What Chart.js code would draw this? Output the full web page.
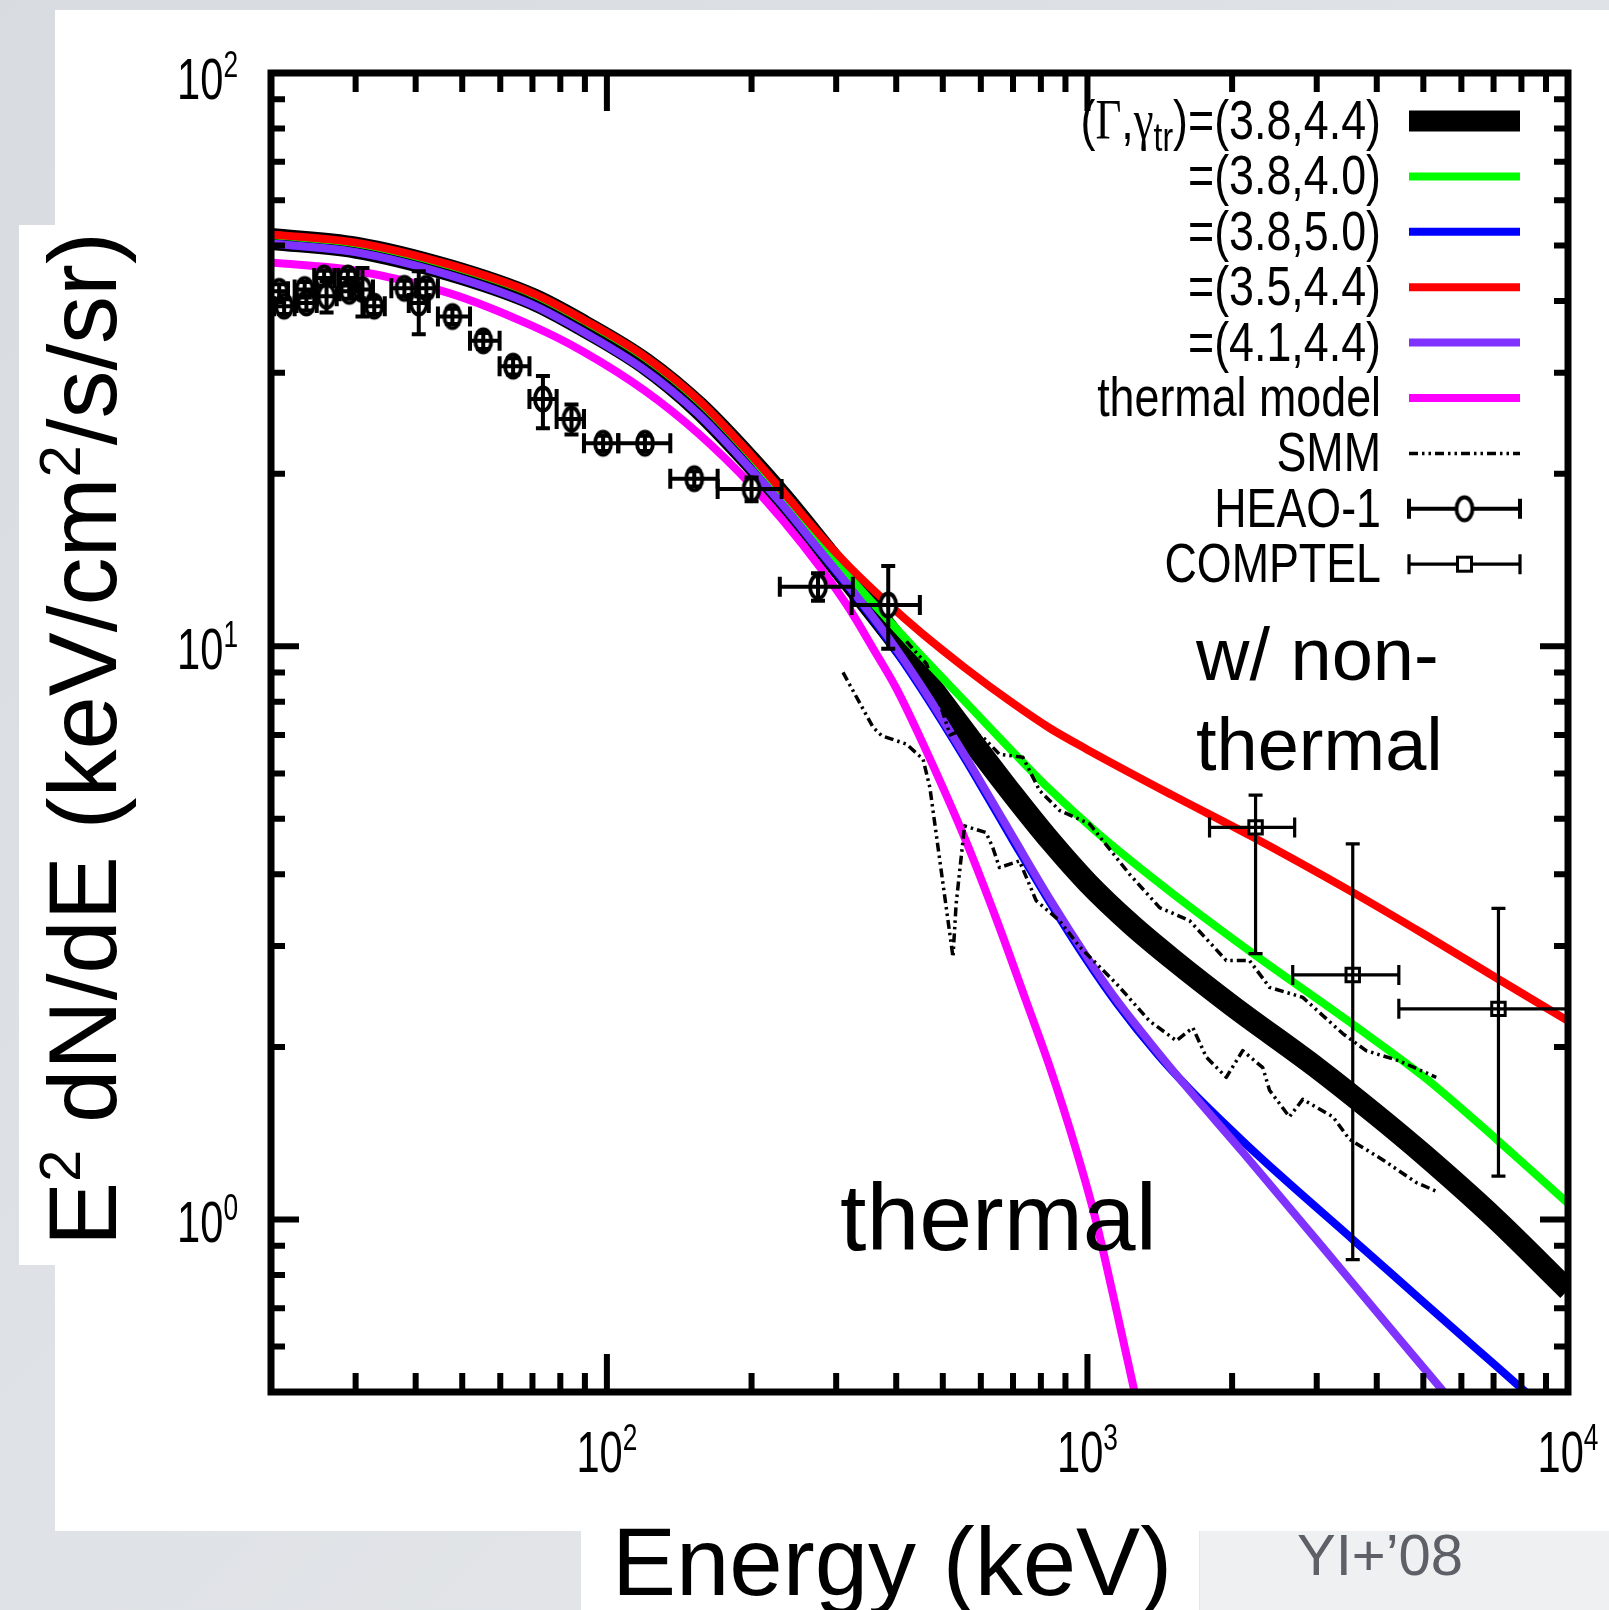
<!DOCTYPE html>
<html lang="en">
<head>
<meta charset="utf-8">
<title>E² dN/dE spectrum</title>
<script src="https://cdn.jsdelivr.net/npm/chart.js@4.4.1/dist/chart.umd.min.js"></script>
<style>
  html, body { margin: 0; padding: 0; background: #dfe2e6; overflow: hidden; }
  canvas { display: block; }
</style>
</head>
<body>
<canvas id="spectrum" width="1609" height="1610"></canvas>
<script>
// ---------- model spectra: energy (keV) and E^2 dN/dE (keV/cm^2/s/sr) ----------
// (Γ,γtr) = (3.8,4.4)
const energyA = [20, 30, 47, 70, 89, 120, 155, 200, 232, 280, 320, 382, 450, 557, 700, 840, 1000, 1234, 1500, 2000, 3000, 4000, 5000, 7000, 10000];
const fluxA   = [51.34, 49.6, 45.3, 40.35, 36.3, 31.15, 26.1, 20.9, 18.14, 14.95, 13.0, 10.77, 8.99, 7.08, 5.51, 4.56, 3.87, 3.27, 2.85, 2.36, 1.84, 1.52, 1.30, 1.01, 0.753];
// (3.8,4.0)
const energyB = [20, 30, 47, 70, 89, 120, 155, 200, 232, 280, 320, 382, 450, 560, 700, 834, 1060, 1500, 2174, 3565, 5000, 7085, 10000];
const fluxB   = [52.15, 50.45, 46.15, 41.2, 37.1, 31.9, 26.8, 21.4, 18.4, 15.13, 13.2, 11.2, 9.65, 7.96, 6.54, 5.63, 4.69, 3.71, 2.94, 2.19, 1.776, 1.382, 1.067];
// (3.8,5.0)
const energyC = [20, 30, 47, 70, 89, 120, 155, 200, 232, 280, 320, 382, 450, 560, 616, 700, 834, 1000, 1148, 1400, 1640, 2105, 2500, 3565, 5000, 6360, 8075, 10000];
const fluxC   = [50.4, 48.7, 44.4, 39.4, 35.4, 30.3, 25.4, 20.3, 17.62, 14.5, 12.62, 10.35, 8.45, 6.3, 5.5, 4.58, 3.58, 2.82, 2.39, 1.94, 1.68, 1.37, 1.20, 0.923, 0.718, 0.601, 0.504, 0.43];
// (3.5,4.4)
const energyD = [20, 30, 47, 70, 89, 120, 155, 200, 232, 280, 320, 382, 450, 557, 700, 834, 1000, 1500, 2174, 3565, 5000, 7085, 10000];
const fluxD   = [52.3, 50.6, 46.3, 41.3, 37.2, 32.0, 26.9, 21.5, 18.64, 15.5, 13.75, 11.93, 10.57, 9.16, 7.95, 7.2, 6.6, 5.5, 4.68, 3.72, 3.15, 2.64, 2.22];
// (4.1,4.4)
const energyE = [20, 30, 47, 70, 89, 120, 155, 200, 232, 280, 320, 382, 450, 560, 616, 700, 834, 1000, 1148, 1400, 1640, 2105, 3565, 4746, 5530, 7000, 10000];
const fluxE   = [50.4, 48.7, 44.4, 39.4, 35.4, 30.3, 25.4, 20.3, 17.65, 14.54, 12.69, 10.45, 8.55, 6.38, 5.58, 4.65, 3.63, 2.86, 2.42, 1.96, 1.67, 1.31, 0.774, 0.581, 0.499, 0.394, 0.276];
// thermal model
const energyT = [20, 30, 47, 70, 89, 120, 155, 200, 232, 280, 320, 357, 400, 457, 557, 650, 746, 834, 948, 1040, 1130, 1260];
const fluxT   = [46.7, 45.2, 41.3, 36.2, 32.7, 27.9, 23.5, 19.1, 16.6, 13.6, 11.6, 9.95, 8.45, 6.7, 4.6, 3.3, 2.4, 1.85, 1.32, 1.0, 0.74, 0.49];

// ---------- SMM measurement (lower and upper traces) ----------
const smmLowE = [310, 358, 373, 420, 455, 470, 525, 533, 555, 615, 635, 656, 722, 782, 875, 963, 1148, 1346, 1531, 1657, 1767, 1945, 2104, 2317, 2393, 2632, 2806, 3243, 3509, 4121, 4832, 5318];
const smmLowF = [9.0, 7.22, 6.98, 6.75, 6.35, 5.67, 2.87, 3.55, 4.86, 4.73, 4.46, 4.11, 4.22, 3.60, 3.32, 2.99, 2.58, 2.22, 2.05, 2.16, 1.92, 1.77, 1.97, 1.84, 1.68, 1.51, 1.62, 1.51, 1.38, 1.27, 1.16, 1.12];
const smmUpE  = [420, 433, 463, 518, 560, 607, 656, 734, 795, 875, 1010, 1224, 1413, 1632, 1945, 2174, 2393, 2806, 3398, 3801, 4459, 5318];
const smmUpF  = [10.2, 9.9, 9.3, 7.0, 7.2, 6.93, 6.48, 6.40, 5.60, 5.17, 4.90, 4.00, 3.50, 3.32, 2.83, 2.83, 2.54, 2.44, 2.11, 1.97, 1.89, 1.77];

// ---------- HEAO-1 points with energy bins and flux errors ----------
const heaoE   = [20.8, 21.3, 23.5, 23.7, 25.8, 26.1, 28.9, 29.1, 31.0, 32.8, 37.9, 40.6, 42.1, 47.7, 55.3, 63.8, 73.6, 84.4, 98.2, 120, 152, 200, 275, 385];
const heaoF   = [41.6, 39.2, 41.9, 39.7, 43.9, 40.8, 43.9, 41.6, 41.9, 39.2, 42.1, 39.7, 42.1, 37.6, 34.1, 30.8, 27.0, 24.9, 22.6, 22.6, 19.6, 18.8, 12.7, 11.8];
const heaoElo = [20.0, 20.3, 22.4, 22.6, 24.6, 24.9, 27.6, 27.8, 29.5, 31.2, 35.6, 38.7, 40.1, 44.5, 51.9, 59.8, 69.0, 78.6, 89.6, 105.6, 135.5, 170, 229, 323];
const heaoEhi = [21.7, 22.4, 24.7, 24.9, 27.1, 27.4, 30.3, 30.5, 32.6, 34.5, 40.2, 42.6, 44.5, 51.9, 59.8, 69.0, 78.6, 89.6, 105.6, 135.5, 170, 231, 325, 448];
const heaoFlo = [40.4, 38.0, 40.6, 38.5, 42.6, 38.2, 42.6, 40.4, 37.6, 38.0, 40.8, 35.0, 40.8, 36.5, 33.0, 29.8, 24.0, 23.4, 21.9, 21.9, 19.0, 17.9, 12.0, 9.9];
const heaoFhi = [42.8, 40.4, 43.2, 40.9, 45.2, 43.3, 45.2, 42.8, 45.7, 40.4, 43.4, 45.1, 43.4, 38.8, 35.2, 31.8, 29.6, 26.4, 23.3, 23.3, 20.2, 19.7, 13.4, 13.8];

// ---------- COMPTEL points ----------
const comptelE   = [2238, 3565, 7166];
const comptelF   = [4.83, 2.67, 2.33];
const comptelElo = [1795, 2674, 4446];
const comptelEhi = [2699, 4446, 11000];
const comptelFlo = [2.91, 0.851, 1.19];
const comptelFhi = [5.5, 4.52, 3.49];

// ---------- axes ----------
const xTickValues = [30, 40, 50, 60, 70, 80, 90, 100, 200, 300, 400, 500, 600, 700, 800, 900, 1000, 2000, 3000, 4000, 5000, 6000, 7000, 8000, 9000];
const yTickValues = [0.6, 0.7, 0.8, 0.9, 1, 2, 3, 4, 5, 6, 7, 8, 9, 10, 20, 30, 40, 50, 60, 70, 80, 90];
const xLabelValues = [100, 1000, 10000];
const xLabelExps   = ['2', '3', '4'];
const yLabelValues = [1, 10, 100];
const yLabelExps   = ['0', '1', '2'];

const seriesLabels = ['=(3.8,4.4)', '=(3.8,4.0)', '=(3.8,5.0)', '=(3.5,4.4)', '=(4.1,4.4)', 'thermal model', 'SMM', 'HEAO-1', 'COMPTEL'];

const W = 1609, H = 1610;
const SANS = '"Liberation Sans", Arial, Helvetica, sans-serif';
const SERIF = '"Liberation Serif", "Times New Roman", serif';
const font = (px, fam = SANS) => `${px}px ${fam}`;

const pts = (xs, ys) => xs.map((v, i) => ({ x: v, y: ys[i] }));

// open ellipse marker used for HEAO-1 points
function ellipseMarker() {
  const c = document.createElement('canvas');
  c.width = 24; c.height = 30;
  const g = c.getContext('2d');
  g.beginPath();
  g.ellipse(12, 15, 8, 11.5, 0, 0, Math.PI * 2);
  g.fillStyle = '#fff'; g.fill();
  g.lineWidth = 3.8; g.strokeStyle = '#000'; g.stroke();
  return c;
}
const heaoMarker = ellipseMarker();

// later entries in the key are painted on top (lower `order` is drawn last)
function curve(label, xs, ys, color, width, order) {
  return {
    label, data: pts(xs, ys), showLine: true, borderColor: color, backgroundColor: color,
    borderWidth: width, pointRadius: 0, cubicInterpolationMode: 'monotone', clip: 0, order
  };
}
function smmTrace(label, xs, ys, order) {
  return {
    label, data: pts(xs, ys), showLine: true, borderColor: '#000', borderWidth: 3.5,
    borderDash: [9, 4, 2.5, 4, 2.5, 4], pointRadius: 0, tension: 0, clip: 0, order
  };
}

const datasets = [
  curve(seriesLabels[0], energyA, fluxA, '#000000', 22, 10),
  curve(seriesLabels[1], energyB, fluxB, '#00ff00', 8, 9),
  curve(seriesLabels[2], energyC, fluxC, '#0000ff', 8, 8),
  curve(seriesLabels[3], energyD, fluxD, '#ff0000', 8, 7),
  curve(seriesLabels[4], energyE, fluxE, '#8033ff', 8, 6),
  curve(seriesLabels[5], energyT, fluxT, '#ff00ff', 8, 5),
  smmTrace(seriesLabels[6], smmLowE, smmLowF, 4),
  smmTrace(seriesLabels[6], smmUpE, smmUpF, 3),
  {
    label: seriesLabels[7], data: pts(heaoE, heaoF), showLine: false, order: 2,
    pointStyle: heaoMarker, pointRadius: 12, clip: 0,
    errors: { xLo: heaoElo, xHi: heaoEhi, yLo: heaoFlo, yHi: heaoFhi, width: 4, capX: 10, capY: 7 }
  },
  {
    label: seriesLabels[8], data: pts(comptelE, comptelF), showLine: false, order: 1,
    pointStyle: 'rect', pointRadius: 9.5, borderColor: '#000', backgroundColor: '#fff', borderWidth: 3, clip: 0,
    errors: { xLo: comptelElo, xHi: comptelEhi, yLo: comptelFlo, yHi: comptelFhi, width: 3.2, capX: 10, capY: 7 }
  }
];

// draws a run of text pieces (font / vertical shift per piece), squeezed horizontally by sx
function richText(ctx, segs, x, y, align, sx) {
  ctx.save();
  ctx.translate(x, y);
  ctx.scale(sx, 1);
  ctx.textAlign = 'left';
  ctx.textBaseline = 'alphabetic';
  let w = 0;
  for (const s of segs) { ctx.font = s.font; w += ctx.measureText(s.t).width; }
  let cx = align === 'right' ? -w : (align === 'center' ? -w / 2 : 0);
  for (const s of segs) {
    ctx.font = s.font;
    ctx.fillText(s.t, cx, s.dy || 0);
    cx += ctx.measureText(s.t).width;
  }
  ctx.restore();
}

// slide panels behind the plot
const backdrop = {
  id: 'backdrop',
  beforeDraw(chart) {
    const c = chart.ctx;
    c.save();
    const g = c.createLinearGradient(0, 0, W, H);
    g.addColorStop(0, '#d8dce1');
    g.addColorStop(1, '#e6e8eb');
    c.fillStyle = g;
    c.fillRect(0, 0, W, H);
    c.fillStyle = '#ffffff';
    c.fillRect(55, 10, W - 55, 1521);
    c.fillRect(19, 225, 40, 1040);
    c.fillRect(581, 1531, 618, H - 1531);
    c.fillStyle = '#eef0f2';
    c.fillRect(1200, 1531, W - 1200, H - 1531);
    c.restore();
  }
};

// error bars, inward tick marks and the heavy frame
const frame = {
  id: 'frame',
  afterDatasetsDraw(chart) {
    const { ctx, chartArea: a, scales: { x, y } } = chart;
    ctx.save();
    ctx.beginPath();
    ctx.rect(a.left, a.top, a.right - a.left, a.bottom - a.top);
    ctx.clip();
    ctx.strokeStyle = '#000';
    chart.data.datasets.forEach(ds => {
      if (!ds.errors) return;
      const e = ds.errors;
      ctx.lineWidth = e.width;
      ds.data.forEach((p, i) => {
        const px = x.getPixelForValue(p.x), py = y.getPixelForValue(p.y);
        const x0 = x.getPixelForValue(e.xLo[i]), x1 = x.getPixelForValue(e.xHi[i]);
        const y0 = y.getPixelForValue(e.yLo[i]), y1 = y.getPixelForValue(e.yHi[i]);
        ctx.beginPath();
        ctx.moveTo(x0, py); ctx.lineTo(x1, py);
        ctx.moveTo(x0, py - e.capX); ctx.lineTo(x0, py + e.capX);
        ctx.moveTo(x1, py - e.capX); ctx.lineTo(x1, py + e.capX);
        ctx.moveTo(px, y0); ctx.lineTo(px, y1);
        ctx.moveTo(px - e.capY, y0); ctx.lineTo(px + e.capY, y0);
        ctx.moveTo(px - e.capY, y1); ctx.lineTo(px + e.capY, y1);
        ctx.stroke();
      });
    });
    ctx.restore();

    ctx.save();
    ctx.strokeStyle = '#000';
    ctx.lineWidth = 6;
    const isMajor = v => Math.abs(Math.log10(v) - Math.round(Math.log10(v))) < 1e-9;
    ctx.beginPath();
    x.ticks.forEach(t => {
      const v = t.value;
      if (v <= x.min || v >= x.max) return;
      const px = x.getPixelForValue(v);
      const L = isMajor(v) ? 38 : 19;
      ctx.moveTo(px, a.bottom); ctx.lineTo(px, a.bottom - L);
      ctx.moveTo(px, a.top); ctx.lineTo(px, a.top + L);
    });
    y.ticks.forEach(t => {
      const v = t.value;
      if (v <= y.min || v >= y.max) return;
      const py = y.getPixelForValue(v);
      const L = isMajor(v) ? 28 : 14;
      ctx.moveTo(a.left, py); ctx.lineTo(a.left + L, py);
      ctx.moveTo(a.right, py); ctx.lineTo(a.right - L, py);
    });
    ctx.stroke();
    ctx.lineWidth = 7;
    ctx.strokeRect(a.left, a.top, a.right - a.left, a.bottom - a.top);
    ctx.restore();
  }
};

// tick labels, axis titles, annotations and the key
const texts = {
  id: 'texts',
  afterDraw(chart) {
    const { ctx, scales: { x, y } } = chart;
    ctx.save();
    ctx.fillStyle = '#000';

    // tick labels as 10^n
    xLabelValues.forEach((v, i) => {
      const px = x.getPixelForValue(v);
      richText(ctx, [{ t: '10', font: font(57) }, { t: xLabelExps[i], font: font(36), dy: -22 }], px, 1472, 'center', 0.73);
    });
    yLabelValues.forEach((v, i) => {
      const py = y.getPixelForValue(v);
      richText(ctx, [{ t: '10', font: font(57) }, { t: yLabelExps[i], font: font(36), dy: -22 }], 238, py + (i === 2 ? 26 : 23), 'right', 0.73);
    });

    // axis titles
    richText(ctx, [{ t: 'Energy (keV)', font: font(96) }], 892, 1595, 'center', 1);
    ctx.save();
    ctx.translate(116, 739);
    ctx.rotate(-Math.PI / 2);
    richText(ctx, [
      { t: 'E', font: font(96) }, { t: '2', font: font(58), dy: -36 },
      { t: ' dN/dE (keV/cm', font: font(96) }, { t: '2', font: font(58), dy: -36 },
      { t: '/s/sr)', font: font(96) }
    ], 0, 0, 'center', 1);
    ctx.restore();

    // annotations inside the plot
    richText(ctx, [{ t: 'w/ non-', font: font(74) }], 1196, 680, 'left', 1);
    richText(ctx, [{ t: 'thermal', font: font(74) }], 1196, 770, 'left', 1);
    richText(ctx, [{ t: 'thermal', font: font(95) }], 840, 1250, 'left', 1);

    // reference tag
    ctx.fillStyle = '#5d6167';
    richText(ctx, [{ t: 'YI+\u201908', font: font(58) }], 1297, 1575, 'left', 1);
    ctx.fillStyle = '#000';

    // key
    const right = 1381, s0 = 1409, s1 = 1520, step = 55.4, top = 121;
    const ds = chart.data.datasets;
    const rows = [
      { segs: [{ t: '(', font: font(56) }, { t: '\u0393', font: font(56, SERIF) }, { t: ',', font: font(56) },
               { t: '\u03b3', font: font(56, SERIF) }, { t: 'tr', font: font(40), dy: 12 },
               { t: ')' + seriesLabels[0], font: font(56) }], ds: 0 },
      { segs: [{ t: seriesLabels[1], font: font(56) }], ds: 1 },
      { segs: [{ t: seriesLabels[2], font: font(56) }], ds: 2 },
      { segs: [{ t: seriesLabels[3], font: font(56) }], ds: 3 },
      { segs: [{ t: seriesLabels[4], font: font(56) }], ds: 4 },
      { segs: [{ t: seriesLabels[5], font: font(56) }], ds: 5 },
      { segs: [{ t: seriesLabels[6], font: font(56) }], ds: 6 },
      { segs: [{ t: seriesLabels[7], font: font(56) }], ds: 8 },
      { segs: [{ t: seriesLabels[8], font: font(56) }], ds: 9 }
    ];
    rows.forEach((r, i) => {
      const cy = top + i * step;
      richText(ctx, r.segs, right, cy + 18, 'right', 0.8);
      const d = ds[r.ds];
      ctx.save();
      ctx.strokeStyle = d.borderColor || '#000';
      if (r.ds <= 7) {
        ctx.lineWidth = r.ds === 0 ? 21 : d.borderWidth;
        if (d.borderDash) ctx.setLineDash(d.borderDash);
        ctx.beginPath(); ctx.moveTo(s0, cy); ctx.lineTo(s1, cy); ctx.stroke();
      } else {
        const e = d.errors;
        const mid = (s0 + s1) / 2;
        ctx.lineWidth = e.width;
        ctx.beginPath();
        ctx.moveTo(s0, cy); ctx.lineTo(s1, cy);
        ctx.moveTo(s0, cy - e.capX); ctx.lineTo(s0, cy + e.capX);
        ctx.moveTo(s1, cy - e.capX); ctx.lineTo(s1, cy + e.capX);
        ctx.stroke();
        if (r.ds === 8) {
          ctx.drawImage(heaoMarker, mid - heaoMarker.width / 2, cy - heaoMarker.height / 2);
        } else {
          ctx.fillStyle = '#fff';
          ctx.lineWidth = 3;
          ctx.fillRect(mid - 7, cy - 7, 14, 14);
          ctx.strokeRect(mid - 7, cy - 7, 14, 14);
        }
      }
      ctx.restore();
    });
    ctx.restore();
  }
};

new Chart(document.getElementById('spectrum'), {
  type: 'scatter',
  data: { datasets },
  options: {
    responsive: false,
    animation: false,
    devicePixelRatio: 1,
    layout: { padding: { left: 271, top: 73, right: W - 1568, bottom: H - 1392 } },
    elements: { line: { capBezierPoints: false, borderCapStyle: 'butt', borderJoinStyle: 'round' } },
    plugins: { legend: { display: false }, tooltip: { enabled: false } },
    scales: {
      x: {
        type: 'logarithmic', min: 20, max: 10000,
        ticks: { display: false }, grid: { display: false, drawTicks: false }, border: { display: false },
        afterBuildTicks: s => { s.ticks = xTickValues.map(v => ({ value: v })); }
      },
      y: {
        type: 'logarithmic', min: 0.5, max: 100,
        ticks: { display: false }, grid: { display: false, drawTicks: false }, border: { display: false },
        afterBuildTicks: s => { s.ticks = yTickValues.map(v => ({ value: v })); }
      }
    }
  },
  plugins: [backdrop, frame, texts]
});
</script>
</body>
</html>
